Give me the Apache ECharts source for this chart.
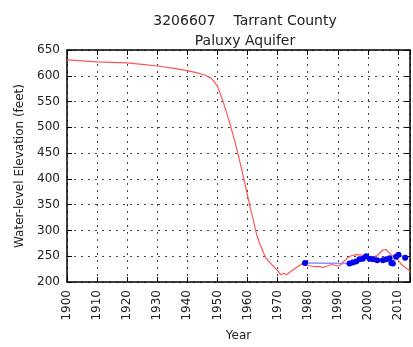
<!DOCTYPE html>
<html>
<head>
<meta charset="utf-8">
<script src="https://cdn.jsdelivr.net/npm/echarts@6/dist/echarts.min.js"></script>
<style>
  html, body { margin: 0; padding: 0; background: #fff; }
  #chart { width: 413px; height: 347px; }
</style>
</head>
<body>
<div id="chart"></div>
<script>
// Well 3206607, Tarrant County — Paluxy Aquifer water levels
const titleLines = ['3206607    Tarrant County', 'Paluxy Aquifer'];
const xTickMin = 1900;
const xTickMax = 2014;
const yTickMin = 200;
const yTickMax = 650;

// Simulated / regional water-level trend (year, elevation ft)
const trendYears = [1900, 1905, 1910, 1915, 1920, 1925, 1930, 1935, 1940, 1943, 1946, 1948, 1950, 1952, 1954, 1956, 1958, 1960, 1961, 1962, 1963, 1964, 1966, 1968, 1970, 1971, 1972, 1973, 1974, 1976, 1978, 1980, 1982, 1984, 1985, 1986, 1988, 1990, 1991, 1992, 1993, 1994, 1996, 1998, 2000, 2001, 2003, 2005, 2006, 2007, 2008, 2009, 2010, 2011, 2012, 2013, 2014];
const trendLevels = [631, 629, 627, 626, 625, 622, 619, 615, 610, 606, 601, 595, 580, 548, 510, 468, 420, 368, 342, 318, 293, 275, 247, 234, 222, 214, 217, 214, 219, 227, 235, 232, 230, 230, 228, 230, 234, 231, 233, 240, 245, 250, 253, 252, 249, 248, 251, 262, 263, 257, 252, 247, 243, 235, 230, 226, 221];

// Measured water levels at the well
const measYears = [1979.1, 1993.9, 1995.0, 1996.1, 1997.2, 1998.3, 1999.4, 2000.6, 2001.7, 2003.1, 2005.0, 2006.1, 2007.2, 2007.8, 2008.3, 2009.4, 2010.2, 2012.4];
const measLevels = [237, 236, 238, 240, 244, 245, 250, 245, 244, 242, 242, 244, 246, 237, 236, 249, 253, 247];

const trendData = trendYears.map((y, i) => [y, trendLevels[i]]);
const measData = measYears.map((y, i) => [y, measLevels[i]]);

const font = 'DejaVu Sans';
const gridDash = { color: '#444', width: 1, type: [2, 5] };

const chart = echarts.init(document.getElementById('chart'));
chart.setOption({
  animation: false,
  backgroundColor: '#fff',
  title: {
    text: titleLines.join('\n'),
    left: 240,
    top: 6,
    textAlign: 'center',
    textStyle: { fontFamily: font, fontSize: 14, fontWeight: 'normal', color: '#222', lineHeight: 20 }
  },
  grid: { left: 67, right: 3, top: 50, bottom: 65 },
  xAxis: [{
    type: 'value',
    min: xTickMin,
    max: xTickMax,
    interval: 10,
    name: 'Year',
    nameLocation: 'middle',
    nameGap: 48,
    nameTextStyle: { fontFamily: font, fontSize: 12, color: '#222' },
    axisLine: { show: true, onZero: false, lineStyle: { color: '#000', width: 1.5 } },
    axisTick: { show: true, inside: true, length: 5, lineStyle: { color: '#000' } },
    axisLabel: {
      rotate: 90,
      margin: 8,
      fontFamily: font,
      fontSize: 12,
      color: '#222',
      formatter: v => (v % 10 === 0 ? String(v) : '')
    },
    splitLine: { show: true, lineStyle: gridDash }
  }, {
    type: 'value',
    position: 'top',
    min: xTickMin,
    max: xTickMax,
    interval: 10,
    axisLine: { show: true, onZero: false, lineStyle: { color: '#000', width: 1.5 } },
    axisTick: { show: true, inside: true, length: 5, lineStyle: { color: '#000' } },
    axisLabel: { show: false },
    splitLine: { show: false }
  }],
  yAxis: [{
    type: 'value',
    min: yTickMin,
    max: yTickMax,
    interval: 50,
    name: 'Water-level Elevation (feet)',
    nameLocation: 'middle',
    nameGap: 40,
    nameTextStyle: { fontFamily: font, fontSize: 12, color: '#222' },
    axisLine: { show: true, onZero: false, lineStyle: { color: '#000', width: 1.5 } },
    axisTick: { show: true, inside: true, length: 5, lineStyle: { color: '#000' } },
    axisLabel: { margin: 7, fontFamily: font, fontSize: 12, color: '#222' },
    splitLine: { show: true, lineStyle: gridDash }
  }, {
    type: 'value',
    position: 'right',
    min: yTickMin,
    max: yTickMax,
    interval: 50,
    axisLine: { show: true, onZero: false, lineStyle: { color: '#000', width: 1.5 } },
    axisTick: { show: true, inside: true, length: 5, lineStyle: { color: '#000' } },
    axisLabel: { show: false },
    splitLine: { show: false }
  }],
  series: [{
    type: 'line',
    data: trendData,
    showSymbol: false,
    smooth: false,
    lineStyle: { color: '#ff5555', width: 1.2 },
    z: 3
  }, {
    type: 'line',
    data: measData,
    symbol: 'circle',
    symbolSize: 6,
    itemStyle: { color: '#0000ee' },
    lineStyle: { color: '#8c8cff', width: 1.5 },
    z: 4
  }]
});
</script>
</body>
</html>
